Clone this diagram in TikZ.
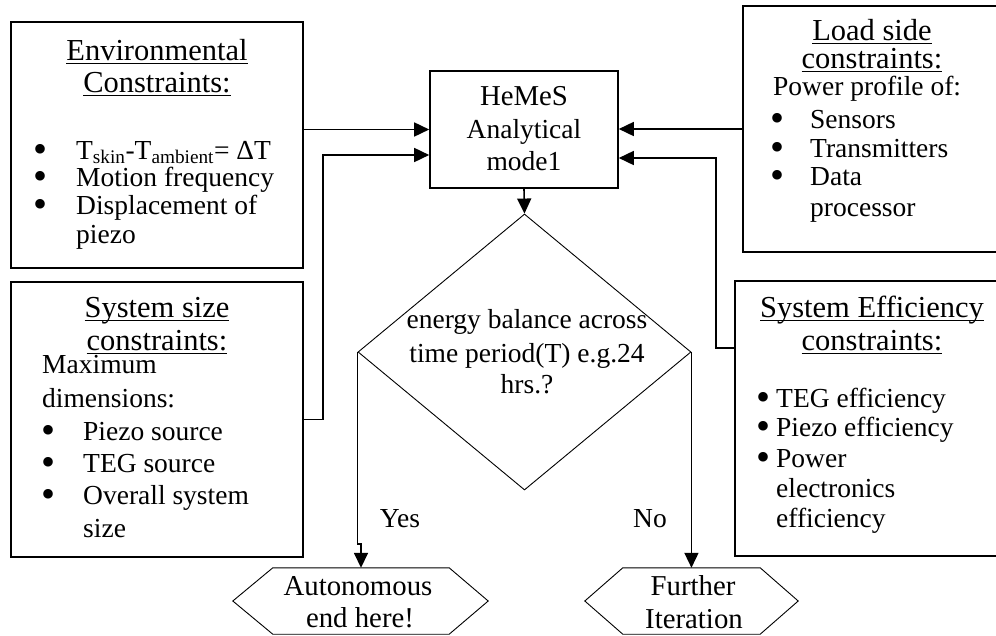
\documentclass[tikz,border=0pt]{standalone}
\usepackage{fontspec}
\setmainfont{Liberation Serif}
\usetikzlibrary{arrows.meta,shapes.geometric,calc}

% underline drawn at a fixed depth under the baseline
\newcommand\hul[1]{\setbox0=\hbox{#1}\rlap{\rule[-3.5pt]{\wd0}{1pt}}\box0}
% bullet centred on the node's x, followed by text at the given indent
\newcommand\bul[2]{\makebox[0pt]{\smash{\raisebox{-3pt}{\fontsize{40}{40}\selectfont\textbullet}}}\hspace*{#1}#2}

\tikzset{
  txt/.style={font=\fontsize{27.5}{31}\selectfont, inner sep=0pt, anchor=base},
  txtl/.style={txt, anchor=base west},
  head/.style={txt, font=\fontsize{30.5}{33}\selectfont},
  term/.style={txt, font=\fontsize{28.8}{31}\selectfont},
  cbox/.style={draw, line width=1.6pt, rectangle, inner sep=0pt},
  thinline/.style={line width=0.9pt},
  conn/.style={line width=1.6pt, -{Triangle[length=15pt,width=14pt]}},
  hexbox/.style={rectangle, inner sep=0pt},
}

\begin{document}
\begin{tikzpicture}[x=1pt,y=-1pt]
\useasboundingbox (0,0) rectangle (996,635);

% ---------- constraint boxes ----------
\node[cbox, minimum width=292, minimum height=246] (env) at (157,145) {};
\node[head] (envh1) at (157,60) {\hul{Environmental}};
\node[head] (envh2) at (157,92) {\hul{Constraints:}};
\node[txtl] (envb1) at (40,159) {\bul{36pt}{T\textsubscript{skin}-T\textsubscript{ambient}= ΔT}};
\node[txtl] (envb2) at (40,186) {\bul{36pt}{Motion frequency}};
\node[txtl] (envb3) at (40,214) {\bul{36pt}{Displacement of}};
\node[txtl] (envb4) at (76,243) {piezo};

\node[cbox, minimum width=292, minimum height=275] (size) at (157,419.5) {};
\node[head] (sizeh1) at (157,317) {\hul{System size}};
\node[head] (sizeh2) at (157,350) {\hul{constraints:}};
\node[txtl] (sizeb1) at (42,373) {Maximum};
\node[txtl] (sizeb2) at (42,407) {dimensions:};
\node[txtl] (sizeb3) at (48,440) {\bul{35pt}{Piezo source}};
\node[txtl] (sizeb4) at (48,472) {\bul{35pt}{TEG source}};
\node[txtl] (sizeb5) at (48,504) {\bul{35pt}{Overall system}};
\node[txtl] (sizeb6) at (83,537) {size};

\node[cbox, minimum width=262, minimum height=246] (load) at (874,129) {};
\node[head] (loadh1) at (872,40) {\hul{Load side}};
\node[head] (loadh2) at (872,68) {\hul{constraints:}};
\node[txtl] (loadb1) at (773,95) {Power profile of:};
\node[txtl] (loadb2) at (777,128) {\bul{33pt}{Sensors}};
\node[txtl] (loadb3) at (777,157) {\bul{33pt}{Transmitters}};
\node[txtl] (loadb4) at (777,185) {\bul{33pt}{Data}};
\node[txtl] (loadb5) at (810,216) {processor};

\node[cbox, minimum width=270, minimum height=275] (eff) at (870,418.5) {};
\node[head] (effh1) at (872,317) {\hul{System Efficiency}};
\node[head] (effh2) at (872,350) {\hul{constraints:}};
\node[txtl] (effb1) at (763,407) {\bul{13pt}{TEG efficiency}};
\node[txtl] (effb2) at (763,436) {\bul{13pt}{Piezo efficiency}};
\node[txtl] (effb3) at (763,467) {\bul{13pt}{Power}};
\node[txtl] (effb4) at (776,497) {electronics};
\node[txtl] (effb5) at (776,527) {efficiency};

% ---------- model, decision and terminals ----------
\node[cbox, minimum width=188, minimum height=117] (hemes) at (524,129.5) {};
\node[term] (hemes1) at (524,105) {HeMeS};
\node[txt] (hemes2) at (524,138) {Analytical};
\node[txt] (hemes3) at (524,170) {mode1};

\node[draw, thinline, diamond, minimum width=333, minimum height=276, inner sep=0pt] (dia) at (524.5,352) {};
\node[txt] (dia1) at (527,328) {energy balance across};
\node[txt] (dia2) at (527,362) {time period(T) e.g.24};
\node[txt] (dia3) at (527,393) {hrs.?};

\node[hexbox, minimum width=176, minimum height=66] (auto) at (361,601) {};
\node[term] (auto1) at (358,595) {Autonomous};
\node[term] (auto2) at (360,627) {end here!};
\draw[thinline] (auto.north west) -- (auto.north east) -- ($(auto.east)+(39,0)$)
  -- (auto.south east) -- (auto.south west) -- ($(auto.west)+(-40,0)$) -- cycle;

\node[hexbox, minimum width=137, minimum height=66] (fur) at (691.5,601) {};
\node[term] (fur1) at (693,595) {Further};
\node[term] (fur2) at (694,628) {Iteration};
\draw[thinline] (fur.north west) -- (fur.north east) -- ($(fur.east)+(38,0)$)
  -- (fur.south east) -- (fur.south west) -- ($(fur.west)+(-38,0)$) -- cycle;

\node[txt] (yes) at (400,527) {Yes};
\node[txt] (no) at (650,527) {No};

% ---------- connectors ----------
\coordinate (kl) at (323,155);
\coordinate (kr) at (716,158);
\coordinate (ke) at ($(eff.north west)+(0,68)$);
\coordinate (ky) at ($(dia.west)+(0,192)$);

\draw[conn] (env.east |- hemes.west) -- (hemes.west);
\draw[conn] (size.east) -| (kl) -- (hemes.west |- kl);
\draw[conn] (load.west) -- (hemes.east |- load.west);
\draw[conn] (ke) -| (kr) -- (hemes.east |- kr);
\draw[conn] (hemes.south) -- (dia.north);
\draw[conn] (dia.west) -- (ky) -| (auto.north);
\draw[conn] (dia.east) -- (dia.east |- fur.north);
\end{tikzpicture}
\end{document}
